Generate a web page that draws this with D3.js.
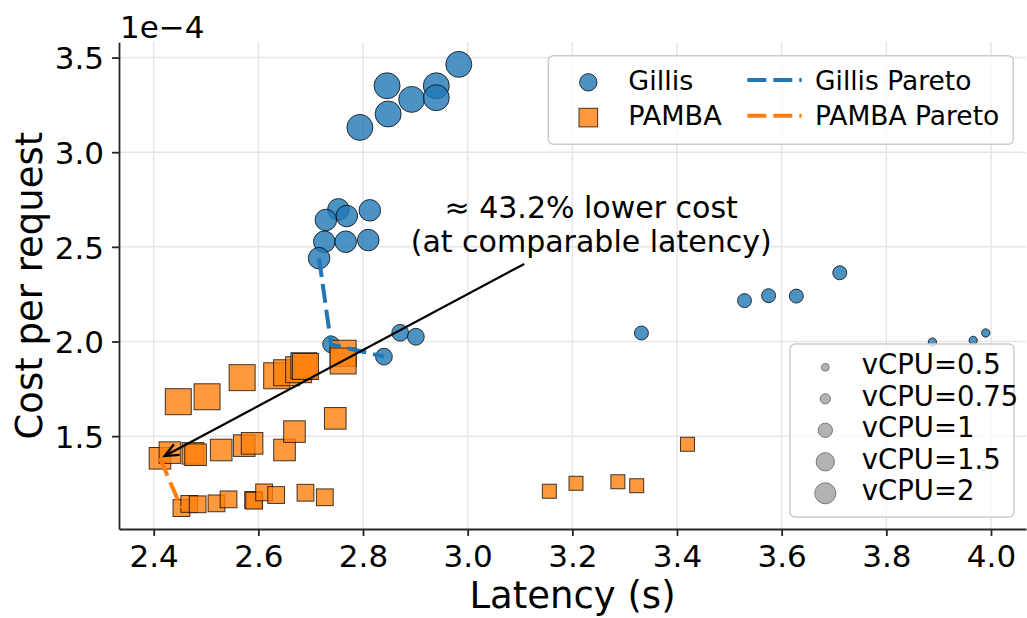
<!DOCTYPE html>
<html>
<head>
<meta charset="UTF-8">
<title>Cost vs latency</title>
<script src="https://cdn.jsdelivr.net/npm/d3@7"></script>
<style>
    body { margin: 0; background: #fff; }
    svg { display: block; font-family: "DejaVu Sans", sans-serif; }
</style>
</head>
<body>
<svg id="chart" width="1027" height="618"></svg>
<script>
// Gillis configurations (latency s, cost per request in 1e-4, vCPU)
var gillisLatency = [2.983, 2.846, 2.940, 2.893, 2.940, 2.848, 2.794,
    2.753, 2.813, 2.769, 2.729, 2.726, 2.767, 2.810, 2.716,
    2.739, 2.840, 2.871, 2.901,
    3.332, 3.529, 3.575, 3.628, 3.711,
    3.888, 3.966, 3.990];
var gillisCost = [3.464, 3.351, 3.351, 3.279, 3.288, 3.202, 3.131,
    2.698, 2.693, 2.663, 2.642, 2.527, 2.527, 2.536, 2.440,
    1.985, 1.920, 2.046, 2.025,
    2.045, 2.216, 2.242, 2.240, 2.363,
    1.997, 2.006, 2.045];
var gillisVcpu = [2, 2, 2, 2, 2, 2, 2,
    1.5, 1.5, 1.5, 1.5, 1.5, 1.5, 1.5, 1.5,
    1, 1, 1, 1,
    0.75, 0.75, 0.75, 0.75, 0.75,
    0.5, 0.5, 0.5];

// PAMBA configurations
var pambaLatency = [2.447, 2.502, 2.569, 2.635, 2.654, 2.677, 2.687, 2.690, 2.762, 2.762,
    2.412, 2.431, 2.475, 2.480, 2.529, 2.573, 2.588, 2.650, 2.669, 2.747,
    2.453, 2.468, 2.484, 2.520, 2.543, 2.590, 2.592, 2.611, 2.634, 2.690, 2.727,
    3.156, 3.207, 3.287, 3.323, 3.420];
var pambaCost = [1.682, 1.708, 1.809, 1.819, 1.835, 1.851, 1.872, 1.868, 1.938, 1.897,
    1.383, 1.413, 1.409, 1.402, 1.427, 1.450, 1.462, 1.427, 1.524, 1.594,
    1.120, 1.142, 1.140, 1.145, 1.166, 1.163, 1.159, 1.203, 1.189, 1.201, 1.177,
    1.209, 1.251, 1.259, 1.238, 1.457];
var pambaVcpu = [2, 2, 2, 2, 2, 2, 2, 2, 2, 2,
    1.5, 1.5, 1.5, 1.5, 1.5, 1.5, 1.5, 1.5, 1.5, 1.5,
    1, 1, 1, 1, 1, 1, 1, 1, 1, 1, 1,
    0.75, 0.75, 0.75, 0.75, 0.75];

// Pareto fronts
var gillisParetoLatency = [2.716, 2.739, 2.840];
var gillisParetoCost = [2.440, 1.985, 1.920];
var pambaParetoLatency = [2.412, 2.453];
var pambaParetoCost = [1.383, 1.120];

// ticks / legend
var xTicks = [2.4, 2.6, 2.8, 3.0, 3.2, 3.4, 3.6, 3.8, 4.0];
var yTicks = [1.5, 2.0, 2.5, 3.0, 3.5];
var vcpuLevels = [0.5, 0.75, 1, 1.5, 2];
var vcpuLabels = ["vCPU=0.5", "vCPU=0.75", "vCPU=1", "vCPU=1.5", "vCPU=2"];

// annotation (data coords)
var annoTip = [2.421, 1.395];
var annoTail = [3.108, 2.41];
var annoText = [3.236, 2.651];
var annoLines = ["\u2248 43.2% lower cost", "(at comparable latency)"];

var svg = d3.select("#chart");
var blue = "#1f77b4", orange = "#ff7f0e";

var x = d3.scaleLinear().domain([2.3337, 4.0669]).range([119, 1026]);
var y = d3.scaleLinear().domain([1.0095, 3.5806]).range([529, 42.3]);

// marker size (px across) per vCPU
var size = d3.scaleOrdinal().domain(vcpuLevels).range([9.3, 15, 17.8, 22.6, 27]);
var legendSize = d3.scaleOrdinal().domain(vcpuLevels).range([8.7, 11.3, 15.3, 19.3, 22]);

// grid
var grid = svg.append("g").attr("stroke", "#e6e6e6").attr("stroke-width", 1.5);
xTicks.forEach(function (t) {
    grid.append("line").attr("x1", x(t)).attr("x2", x(t)).attr("y1", y.range()[1]).attr("y2", y.range()[0]);
});
yTicks.forEach(function (t) {
    grid.append("line").attr("x1", x.range()[0]).attr("x2", x.range()[1]).attr("y1", y(t)).attr("y2", y(t));
});

// axes
var xAxis = svg.append("g").attr("transform", "translate(0,529)")
    .call(d3.axisBottom(x).tickValues(xTicks).tickFormat(d3.format(".1f")).tickSizeInner(7).tickSizeOuter(0).tickPadding(9));
var yAxis = svg.append("g").attr("transform", "translate(119,0)")
    .call(d3.axisLeft(y).tickValues(yTicks).tickFormat(d3.format(".1f")).tickSizeInner(7).tickSizeOuter(0).tickPadding(8));
[xAxis, yAxis].forEach(function (a) {
    a.attr("font-family", null).attr("font-size", null);
    a.select(".domain").attr("stroke", "#262626").attr("stroke-width", 1.8);
    a.selectAll(".tick line").attr("stroke", "#262626").attr("stroke-width", 1.8);
    a.selectAll(".tick text").attr("fill", "#000").style("font-size", "31px");
});
yAxis.selectAll(".tick text").attr("dy", "0.36em");

svg.append("text").attr("x", 120).attr("y", 38).style("font-size", "31px").text("1e\u22124");
svg.append("text").attr("x", 572.5).attr("y", 608).attr("text-anchor", "middle")
    .style("font-size", "37px").text("Latency (s)");
svg.append("text").attr("transform", "translate(42,285.6) rotate(-90)").attr("text-anchor", "middle")
    .style("font-size", "37px").text("Cost per request");

// scatter
var gillis = gillisLatency.map(function (d, i) { return { lat: d, cost: gillisCost[i], v: gillisVcpu[i] }; });
var pamba = pambaLatency.map(function (d, i) { return { lat: d, cost: pambaCost[i], v: pambaVcpu[i] }; });

svg.append("g").selectAll("circle").data(gillis).enter().append("circle")
    .attr("cx", function (d) { return x(d.lat); })
    .attr("cy", function (d) { return y(d.cost); })
    .attr("r", function (d) { return (size(d.v) - 1) / 2; })
    .attr("fill", blue).attr("fill-opacity", 0.8)
    .attr("stroke", "#000").attr("stroke-opacity", 0.75).attr("stroke-width", 1);

svg.append("g").selectAll("rect").data(pamba).enter().append("rect")
    .attr("x", function (d) { return x(d.lat) - (size(d.v) - 1) / 2; })
    .attr("y", function (d) { return y(d.cost) - (size(d.v) - 1) / 2; })
    .attr("width", function (d) { return size(d.v) - 1; })
    .attr("height", function (d) { return size(d.v) - 1; })
    .attr("fill", orange).attr("fill-opacity", 0.8)
    .attr("stroke", "#000").attr("stroke-opacity", 0.75).attr("stroke-width", 1);

// pareto lines
var line = d3.line().x(function (d) { return x(d[0]); }).y(function (d) { return y(d[1]); });
svg.append("path").datum(d3.zip(gillisParetoLatency, gillisParetoCost)).attr("d", line)
    .attr("fill", "none").attr("stroke", blue).attr("stroke-width", 4).attr("stroke-dasharray", "19,7");
svg.append("path").datum(d3.zip(pambaParetoLatency, pambaParetoCost)).attr("d", line)
    .attr("fill", "none").attr("stroke", orange).attr("stroke-width", 4).attr("stroke-dasharray", "19,7");

// annotation
var tx = x(annoTip[0]), ty = y(annoTip[1]);
var fx = x(annoTail[0]), fy = y(annoTail[1]);
var ang = Math.atan2(fy - ty, fx - tx);
var anno = svg.append("g").attr("stroke", "#000").attr("stroke-width", 2.3).attr("fill", "none");
anno.append("line").attr("x1", fx).attr("y1", fy).attr("x2", tx).attr("y2", ty);
anno.append("path").attr("stroke-linejoin", "miter")
    .attr("d", "M" + (tx + 15 * Math.cos(ang - 0.42)) + "," + (ty + 15 * Math.sin(ang - 0.42)) +
        "L" + tx + "," + ty +
        "L" + (tx + 15 * Math.cos(ang + 0.42)) + "," + (ty + 15 * Math.sin(ang + 0.42)));
annoLines.forEach(function (t, i) {
    svg.append("text").attr("x", x(annoText[0])).attr("y", y(annoText[1]) + i * 33.5)
        .attr("text-anchor", "middle").style("font-size", "30px").text(t);
});

// legend: series
var lg = svg.append("g");
lg.append("rect").attr("x", 548.3).attr("y", 55.7).attr("width", 465).attr("height", 88.5)
    .attr("rx", 5).attr("fill", "#fff").attr("fill-opacity", 0.8).attr("stroke", "#cccccc").attr("stroke-width", 1.5);
lg.append("circle").attr("cx", 588.3).attr("cy", 82.3).attr("r", 8.7)
    .attr("fill", blue).attr("fill-opacity", 0.8).attr("stroke", "#000").attr("stroke-opacity", 0.75);
lg.append("rect").attr("x", 579).attr("y", 108.3).attr("width", 18.6).attr("height", 18.6)
    .attr("fill", orange).attr("fill-opacity", 0.8).attr("stroke", "#000").attr("stroke-opacity", 0.75);
lg.append("text").attr("x", 628.3).attr("y", 89.5).style("font-size", "27px").text("Gillis");
lg.append("text").attr("x", 628.3).attr("y", 124.5).style("font-size", "27px").text("PAMBA");
lg.append("line").attr("x1", 747.3).attr("x2", 801.7).attr("y1", 80).attr("y2", 80)
    .attr("stroke", blue).attr("stroke-width", 4).attr("stroke-dasharray", "19,7");
lg.append("line").attr("x1", 747.3).attr("x2", 801.7).attr("y1", 115.7).attr("y2", 115.7)
    .attr("stroke", orange).attr("stroke-width", 4).attr("stroke-dasharray", "19,7");
lg.append("text").attr("x", 815).attr("y", 89.5).style("font-size", "26.5px").text("Gillis Pareto");
lg.append("text").attr("x", 815).attr("y", 124.5).style("font-size", "26.5px").text("PAMBA Pareto");

// legend: vCPU sizes
var sg = svg.append("g");
sg.append("rect").attr("x", 790).attr("y", 344).attr("width", 224).attr("height", 173)
    .attr("rx", 5).attr("fill", "#fff").attr("fill-opacity", 0.8).attr("stroke", "#cccccc").attr("stroke-width", 1.5);
vcpuLevels.forEach(function (v, i) {
    sg.append("circle").attr("cx", 825.3).attr("cy", 367.3 + i * 31.5).attr("r", (legendSize(v) - 1) / 2)
        .attr("fill", "#b3b3b3").attr("stroke", "#777").attr("stroke-width", 1);
    sg.append("text").attr("x", 861.7).attr("y", 374 + i * 31.6).style("font-size", "27.5px").text(vcpuLabels[i]);
});
</script>
</body>
</html>
